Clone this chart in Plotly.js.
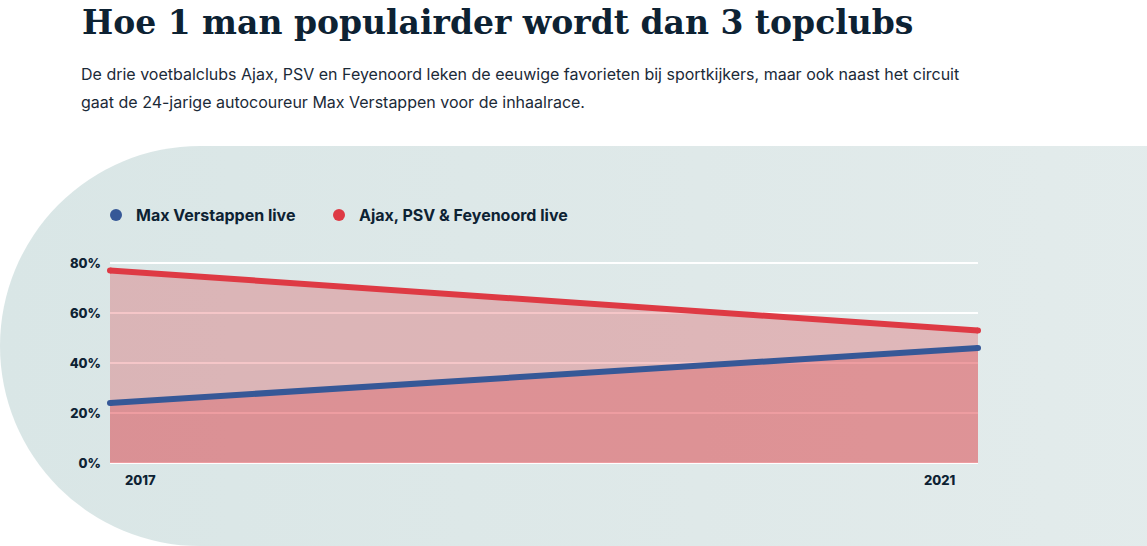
<!DOCTYPE html>
<html>
<head>
<meta charset="utf-8">
<script src="https://cdn.plot.ly/plotly-3.0.1.min.js"></script>
<style>
  html, body { margin: 0; padding: 0; background: #fff; }
  #wrap { position: relative; width: 1147px; height: 546px; overflow: hidden; }
  #bg {
    position: absolute; left: 0; top: 146px; width: 1400px; height: 400px;
    border-radius: 200px 0 0 200px;
    background: linear-gradient(90deg, #d9e6e6 0%, #dfe9e9 50%, #e5eded 100%);
  }
  #chart { position: absolute; left: 0; top: 0; width: 1147px; height: 546px; }
</style>
</head>
<body>
<div id="wrap">
  <div id="bg"></div>
  <div id="chart"></div>
</div>
<script>
// data
var years = [2017, 2021];
var maxVerstappen = [24, 46];
var topClubs = [77, 53];
var yTicks = [0, 20, 40, 60, 80];
var yTickText = yTicks.map(function(v){ return v + '%'; });
var seriesNames = ['Max Verstappen live', 'Ajax, PSV & Feyenoord live'];

var ink = '#0d2233';
var blue = '#365897';
var red = '#de3a44';
var areaFill = 'rgba(222,58,66,0.29)';

// plot box in pixels (top leaves 2 units of headroom above 80%)
var box = { l: 110, r: 978, t: 258, b: 463 };
function px(x){ return (x - box.l) / (box.r - box.l); }
function py(y){ return (box.b - y) / (box.b - box.t); }

function createGraph(){
  var clubsArea = {
    x: years, y: topClubs, mode: 'lines+markers', fill: 'tozeroy', fillcolor: areaFill,
    line: { color: red, width: 6 }, marker: { color: red, size: 6 },
    cliponaxis: false, showlegend: false, hoverinfo: 'skip'
  };
  var maxArea = {
    x: years, y: maxVerstappen, mode: 'lines+markers', fill: 'tozeroy', fillcolor: areaFill,
    line: { color: blue, width: 6 }, marker: { color: blue, size: 6 },
    cliponaxis: false, showlegend: false, hoverinfo: 'skip'
  };
  // legend-only entries with round dots, one legend each
  var maxKey = { x: [null], y: [null], mode: 'markers', name: seriesNames[0],
    marker: { color: blue, size: 14 }, legend: 'legend' };
  var clubsKey = { x: [null], y: [null], mode: 'markers', name: seriesNames[1],
    marker: { color: red, size: 14 }, legend: 'legend2' };

  var data = [clubsArea, maxArea, maxKey, clubsKey];

  var legendFont = { family: 'Inter', size: 16, weight: 700, color: ink };
  var subFont = { family: 'Inter', size: 16, color: '#1b2a38' };

  var layout = {
    width: 1147, height: 546,
    margin: { l: box.l, r: 1147 - box.r, t: box.t, b: 546 - box.b },
    paper_bgcolor: 'rgba(0,0,0,0)', plot_bgcolor: 'rgba(0,0,0,0)',
    font: { family: 'Inter, sans-serif', color: ink },
    title: {
      text: 'Hoe 1 man populairder wordt dan 3 topclubs',
      xref: 'container', yref: 'container', x: 82 / 1147, xanchor: 'left',
      y: 1 - 22 / 546, yanchor: 'middle',
      font: { family: 'DejaVu Serif', size: 33, weight: 700, color: ink }
    },
    showlegend: true,
    legend: {
      orientation: 'h', xref: 'container', yref: 'container',
      x: 96 / 1147, xanchor: 'left', y: 1 - 215 / 546, yanchor: 'middle',
      font: legendFont, bgcolor: 'rgba(0,0,0,0)', itemsizing: 'constant'
    },
    legend2: {
      orientation: 'h', xref: 'container', yref: 'container',
      x: 319 / 1147, xanchor: 'left', y: 1 - 215 / 546, yanchor: 'middle',
      font: legendFont, bgcolor: 'rgba(0,0,0,0)', itemsizing: 'constant'
    },
    xaxis: {
      range: [years[0], years[1]], showgrid: false, zeroline: false,
      showticklabels: false, showline: false, fixedrange: true
    },
    yaxis: {
      range: [0, 82], tickmode: 'array', tickvals: yTicks, ticktext: yTickText,
      showgrid: true, gridcolor: '#ffffff', gridwidth: 2,
      zeroline: true, zerolinecolor: '#ffffff', zerolinewidth: 2,
      ticklabelstandoff: 8,
      tickfont: { family: 'Inter', size: 13, weight: 800, color: ink },
      fixedrange: true
    },
    annotations: [
      { xref: 'paper', yref: 'paper', x: px(79), y: py(74),
        xanchor: 'left', yanchor: 'middle', showarrow: false, align: 'left',
        text: 'De drie voetbalclubs Ajax, PSV en Feyenoord leken de eeuwige favorieten bij sportkijkers, maar ook naast het circuit',
        font: subFont },
      { xref: 'paper', yref: 'paper', x: px(79), y: py(102),
        xanchor: 'left', yanchor: 'middle', showarrow: false, align: 'left',
        text: 'gaat de 24-jarige autocoureur Max Verstappen voor de inhaalrace.',
        font: subFont },
      { xref: 'x', yref: 'paper', x: years[0], y: py(480), xshift: 13,
        xanchor: 'left', yanchor: 'middle', showarrow: false, text: String(years[0]),
        font: { family: 'Inter', size: 13, weight: 800, color: ink } },
      { xref: 'x', yref: 'paper', x: years[1], y: py(480), xshift: -21,
        xanchor: 'right', yanchor: 'middle', showarrow: false, text: String(years[1]),
        font: { family: 'Inter', size: 13, weight: 800, color: ink } }
    ]
  };

  Plotly.newPlot('chart', data, layout, { staticPlot: true });
}

createGraph();
</script>
</body>
</html>
